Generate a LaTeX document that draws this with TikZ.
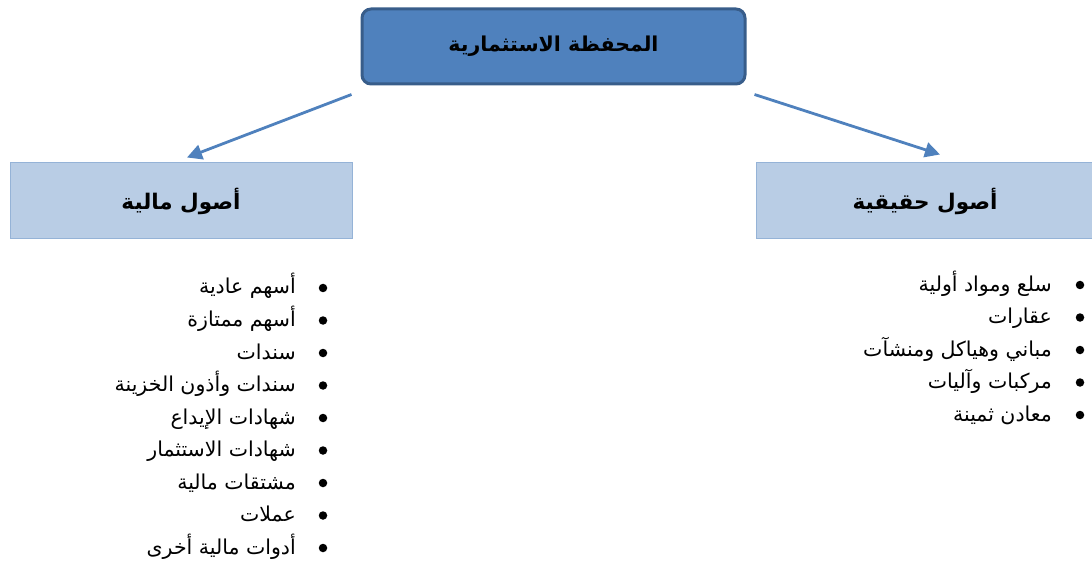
\documentclass[tikz,border=0pt]{standalone}
\usepackage{fontspec}
\usepackage{tikz}
\usetikzlibrary{arrows.meta, positioning, shapes}
\TeXXeTstate=1
\newfontfamily\arabicfont[Script=Arabic]{DejaVu Sans}
\definecolor{topblue}{HTML}{4F81BD}
\definecolor{topedge}{HTML}{385D8A}
\definecolor{lightblue}{HTML}{B9CDE5}
\definecolor{lightedge}{HTML}{95B3D7}

\begin{document}
\begin{tikzpicture}[
    x=1pt, y=-1pt,
    top style/.style={rectangle, rounded corners=9pt, draw=topedge, line width=3pt, fill=topblue, minimum width=383pt, minimum height=75pt, font=\arabicfont\bfseries\fontsize{20.5}{24}\selectfont},
    branch style/.style={rectangle, draw=lightedge, line width=1pt, fill=lightblue, minimum height=76pt, font=\arabicfont\bfseries\fontsize{21.5}{24}\selectfont},
    item style/.style={anchor=base east, inner sep=0pt, font=\arabicfont\fontsize{20.5}{24}\selectfont},
    bullet/.style={circle, fill=black, inner sep=0pt, minimum size=8.5pt},
    link/.style={draw=topblue, line width=2.8pt, -{Triangle[length=15pt, width=15pt]}},
]
    \useasboundingbox (0,0) rectangle (1092,561);

    % Boxes
    \node[top style] (top) at (553.5,46.5) {\beginR المحفظة الاستثمارية\endR};
    \node[branch style, minimum width=342pt] (fin) at (181,201) {\beginR أصول مالية\endR};
    \node[branch style, minimum width=338pt] (real) at (925,201) {\beginR أصول حقيقية\endR};

    % Arrows
    \draw[link] ([shift={(-9,9)}]top.south west) -- ([shift={(6,-5)}]fin.north);
    \draw[link] ([shift={(8,9)}]top.south east) -- ([shift={(15,-8)}]real.north);

    % Left list
    \node[bullet] (b1) at (323,288) {};
    \node[bullet] (b2) at (323,320.5) {};
    \node[bullet] (b3) at (323,353) {};
    \node[bullet] (b4) at (323,385.5) {};
    \node[bullet] (b5) at (323,418) {};
    \node[bullet] (b6) at (323,450.5) {};
    \node[bullet] (b7) at (323,483) {};
    \node[bullet] (b8) at (323,515.5) {};
    \node[bullet] (b9) at (323,548) {};
    \node[item style] (f1) at (296,294) {\beginR أسهم عادية\endR};
    \node[item style] (f2) at (296,326.5) {\beginR أسهم ممتازة\endR};
    \node[item style] (f3) at (296,359) {\beginR سندات\endR};
    \node[item style] (f4) at (296,391.5) {\beginR سندات وأذون الخزينة\endR};
    \node[item style] (f5) at (296,424) {\beginR شهادات الإيداع\endR};
    \node[item style] (f6) at (296,456.5) {\beginR شهادات الاستثمار\endR};
    \node[item style] (f7) at (296,489) {\beginR مشتقات مالية\endR};
    \node[item style] (f8) at (296,521.5) {\beginR عملات\endR};
    \node[item style] (f9) at (296,554) {\beginR أدوات مالية أخرى\endR};

    % Right list
    \node[bullet] (c1) at (1080,285) {};
    \node[bullet] (c2) at (1080,317.5) {};
    \node[bullet] (c3) at (1080,350) {};
    \node[bullet] (c4) at (1080,382.5) {};
    \node[bullet] (c5) at (1080,415) {};
    \node[item style] (r1) at (1052,291) {\beginR سلع ومواد أولية\endR};
    \node[item style] (r2) at (1052,323.5) {\beginR عقارات\endR};
    \node[item style] (r3) at (1052,356) {\beginR مباني وهياكل ومنشآت\endR};
    \node[item style] (r4) at (1052,388.5) {\beginR مركبات وآليات\endR};
    \node[item style] (r5) at (1052,421) {\beginR معادن ثمينة\endR};

\end{tikzpicture}
\end{document}
